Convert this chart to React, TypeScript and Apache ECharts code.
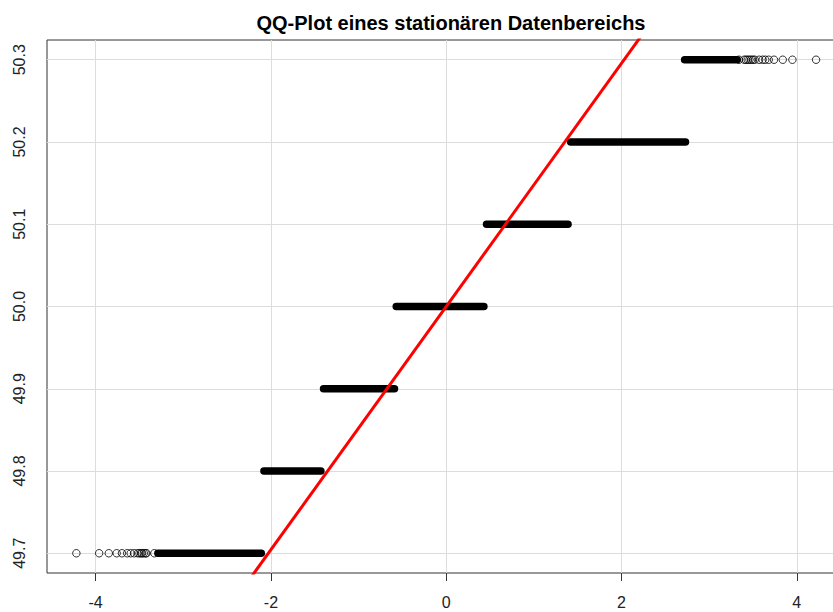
import React, { useEffect, useRef } from "react";
import * as echarts from "echarts";

const titleText = "QQ-Plot eines stationären Datenbereichs";
const xTicks = [-4, -2, 0, 2, 4];
const yTicks = [49.7, 49.8, 49.9, 50.0, 50.1, 50.2, 50.3];
const bandLevels = [49.7, 49.8, 49.9, 50.0, 50.1, 50.2, 50.3];
const bandStart = [-3.29, -2.08, -1.4, -0.57, 0.46, 1.42, 2.72];
const bandEnd = [-2.11, -1.43, -0.59, 0.43, 1.39, 2.73, 3.32];
const lowTailX = [-4.22, -3.96, -3.85, -3.76, -3.7, -3.64, -3.6, -3.56, -3.52, -3.5, -3.48, -3.47, -3.45, -3.43, -3.42, -3.33];
const highTailX = [3.34, 3.4, 3.42, 3.44, 3.46, 3.48, 3.5, 3.52, 3.57, 3.61, 3.64, 3.68, 3.74, 3.84, 3.95, 4.22];
const qqLineX = [-2.3, 2.3];
const qqLineY = [49.66, 50.34];

const FONT = "'Liberation Sans', Arial, sans-serif";

export default function App() {
  const ref = useRef<HTMLDivElement>(null);
  useEffect(() => {
    if (!ref.current) return;
    const chart = echarts.init(ref.current, null, { renderer: "svg" });
    const bandSeries = bandLevels.map((lv, i) => ({
      type: "line",
      data: [
        [bandStart[i], lv],
        [bandEnd[i], lv],
      ],
      symbol: "none",
      lineStyle: { color: "#000", width: 7.5, cap: "round" },
      z: 3,
      silent: true,
    }));
    const tailData = [
      ...lowTailX.map((x) => [x, bandLevels[0]]),
      ...highTailX.map((x) => [x, bandLevels[bandLevels.length - 1]]),
    ];
    chart.setOption({
      animation: false,
      title: {
        text: titleText,
        left: 446,
        textAlign: "center",
        top: 8,
        textStyle: { fontFamily: FONT, fontSize: 20, fontWeight: "bold", color: "#000" },
      },
      grid: {
        left: 47,
        top: 40,
        width: 798,
        height: 533,
        show: true,
        borderColor: "#333",
        borderWidth: 1,
        backgroundColor: "transparent",
      },
      xAxis: {
        type: "value",
        min: -4.555,
        max: 4.55,
        axisLine: { show: false },
        splitLine: { show: false },
        axisTick: { show: true, inside: false, length: 8, customValues: xTicks, lineStyle: { color: "#333" } },
        axisLabel: {
          customValues: xTicks,
          margin: 21,
          fontFamily: FONT,
          fontSize: 16,
          color: "#222",
          formatter: (v: number) => String(v),
        },
      },
      yAxis: {
        type: "value",
        min: 49.676,
        max: 50.324,
        axisLine: { show: false },
        splitLine: { show: false },
        axisTick: { show: true, inside: false, length: 10, customValues: yTicks, lineStyle: { color: "#333" } },
        axisLabel: {
          customValues: yTicks,
          rotate: 90,
          margin: 20,
          fontFamily: FONT,
          fontSize: 16,
          color: "#222",
          formatter: (v: number) => v.toFixed(1),
        },
      },
      series: [
        {
          type: "scatter",
          data: [],
          z: 1,
          silent: true,
          markLine: {
            silent: true,
            z: 1,
            symbol: "none",
            label: { show: false },
            lineStyle: { color: "#dcdcdc", width: 1, type: "solid" },
            data: [...xTicks.map((x) => ({ xAxis: x })), ...yTicks.map((y) => ({ yAxis: y }))],
          },
        },
        ...bandSeries,
        {
          type: "scatter",
          data: tailData,
          symbol: "circle",
          symbolSize: 7.5,
          itemStyle: { color: "rgba(0,0,0,0)", borderColor: "#000", borderWidth: 1 },
          z: 4,
          silent: true,
        },
        {
          type: "line",
          data: qqLineX.map((x, i) => [x, qqLineY[i]]),
          symbol: "none",
          clip: true,
          lineStyle: { color: "#ff0000", width: 3 },
          z: 5,
          silent: true,
        },
      ],
    });
    return () => chart.dispose();
  }, []);
  return (
    <div style={{ position: "absolute", left: 0, top: 0, width: 833, height: 612, overflow: "hidden", background: "#fff" }}>
      <div ref={ref} style={{ width: 870, height: 612 }} />
    </div>
  );
}
